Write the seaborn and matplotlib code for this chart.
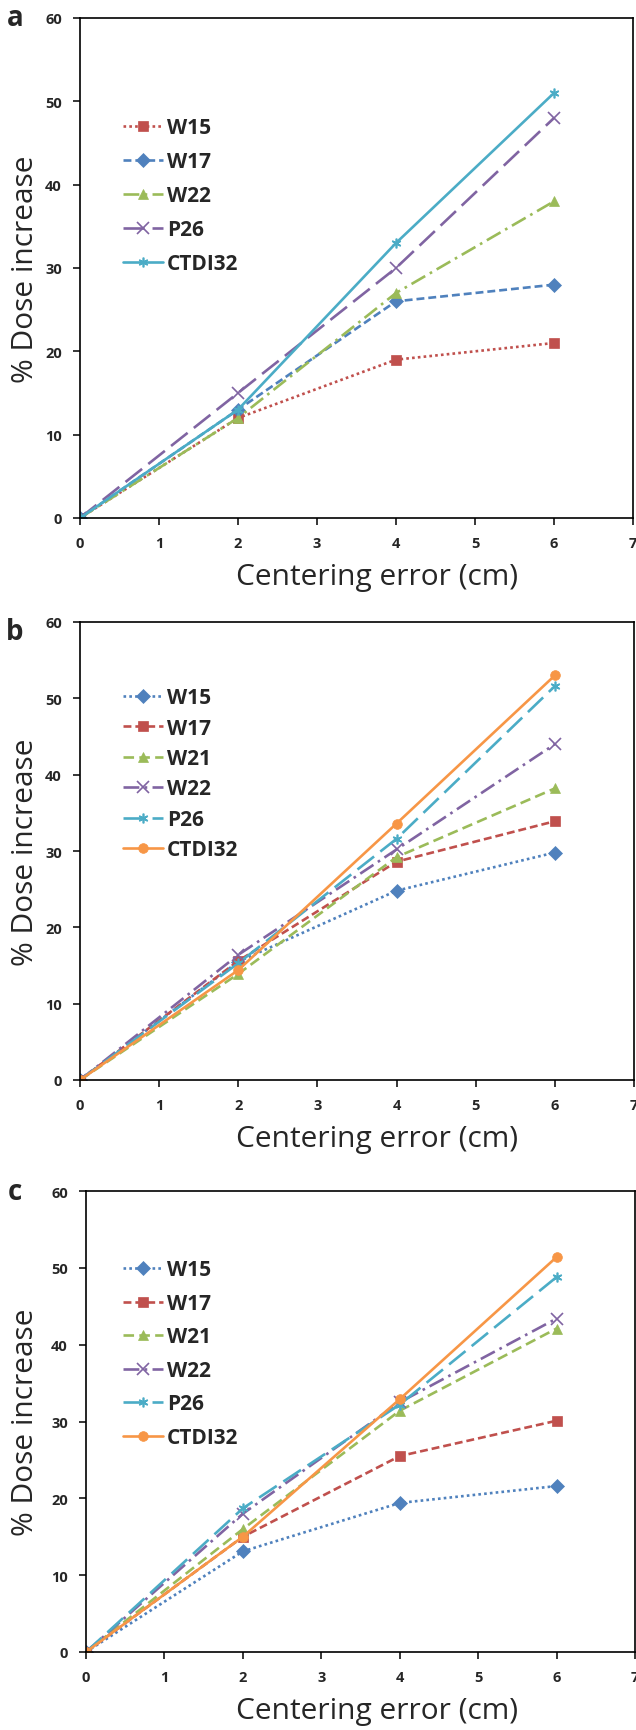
import numpy as np
import pandas as pd
import matplotlib
matplotlib.use('Agg')
import matplotlib.pyplot as plt
import seaborn as sns

# Données
x_cm = [0, 2, 4, 6]

# Panneau a
a_names = ['W15', 'W17', 'W22', 'P26', 'CTDI32']
a_W15 = [0, 12, 19, 21]
a_W17 = [0, 13, 26, 28]
a_W22 = [0, 12, 27, 38]
a_P26 = [0, 15, 30, 48]
a_CTDI32 = [0, 13, 33, 51]

# Panneau b
b_names = ['W15', 'W17', 'W21', 'W22', 'P26', 'CTDI32']
b_W15 = [0, 15.5, 24.8, 29.8]
b_W17 = [0, 15.6, 28.6, 33.9]
b_W21 = [0, 13.9, 29.2, 38.2]
b_W22 = [0, 16.4, 30.2, 44.0]
b_P26 = [0, 15.3, 31.6, 51.6]
b_CTDI32 = [0, 14.4, 33.6, 53.0]

# Panneau c
c_names = ['W15', 'W17', 'W21', 'W22', 'P26', 'CTDI32']
c_W15 = [0, 13.1, 19.4, 21.6]
c_W17 = [0, 15.0, 25.5, 30.1]
c_W21 = [0, 16.0, 31.4, 42.1]
c_W22 = [0, 18.0, 32.5, 43.4]
c_P26 = [0, 18.7, 32.2, 48.8]
c_CTDI32 = [0, 15.0, 32.9, 51.4]

y_ticks = [0, 10, 20, 30, 40, 50, 60]
x_ticks = [0, 1, 2, 3, 4, 5, 6, 7]

RED, BLUE, GREEN = '#C0504D', '#4F81BD', '#9BBB59'
PURPLE, CYAN, ORANGE = '#8064A2', '#4BACC6', '#F79646'
ASTER = (6, 2, 0)

# style par série : couleur, marqueur, tirets
STYLES_A = {
    'W15': (RED, 's', (1, 1.2)),
    'W17': (BLUE, 'D', (3, 1.5)),
    'W22': (GREEN, '^', (6, 2, 1, 2)),
    'P26': (PURPLE, 'x', (8, 3)),
    'CTDI32': (CYAN, ASTER, ''),
}
STYLES_BC = {
    'W15': (BLUE, 'D', (1, 1.2)),
    'W17': (RED, 's', (3, 1.5)),
    'W21': (GREEN, '^', (4, 2)),
    'W22': (PURPLE, 'x', (6, 2, 1, 2)),
    'P26': (CYAN, ASTER, (8, 3)),
    'CTDI32': (ORANGE, 'o', ''),
}

sns.set_theme(style='white')
plt.rcParams['font.family'] = ['Open Sans', 'DejaVu Sans']

W, H = 636, 1731
fig = plt.figure(figsize=(W / 100, H / 100), dpi=100)


def panel(left, top, right, bottom, letter, letter_dy, names, series, styles,
          leg_top, leg_space):
    # positions en pixels -> fractions de figure
    ax = fig.add_axes([left / W, 1 - bottom / H, (right - left) / W, (bottom - top) / H])
    w_px, h_px = right - left, bottom - top
    for name, vals in zip(names, series):
        col, mk, dash = styles[name]
        df = pd.DataFrame({'x': x_cm, 'y': vals})
        line = sns.lineplot(ax=ax, x='x', y='y', data=df, color=col, marker=mk,
                            label=name, linewidth=1.9,
                            markersize=7 if mk != 'x' else 8,
                            markeredgewidth=1.2 if mk in ('x', ASTER) else 0.5,
                            markeredgecolor=col, errorbar=None).lines[-1]
        if dash:
            line.set_dashes(dash)
    ax.set_xlim(0, 7)
    ax.set_ylim(0, 60)
    ax.set_xticks(x_ticks)
    ax.set_yticks(y_ticks)
    for sp in ax.spines.values():
        sp.set_visible(True)
        sp.set_color('black')
        sp.set_linewidth(1.2)
    ax.tick_params(axis='both', direction='out', length=5, width=1.1,
                   color='black', labelsize=10.5, pad=8, bottom=True, left=True)
    for t in ax.get_xticklabels() + ax.get_yticklabels():
        t.set_fontweight('bold')
    ax.set_xlabel('Centering error (cm)', fontsize=21.5)
    ax.xaxis.set_label_coords((377 - left) / w_px, -44 / h_px)
    ax.set_ylabel('% Dose increase', fontsize=21.5)
    ax.yaxis.set_label_coords((40 - left) / w_px, 0.5)
    ax.text((15 - left) / w_px, 1 - letter_dy / h_px, letter, transform=ax.transAxes,
            fontsize=20, fontweight='bold', va='center', ha='center')
    ax.legend(loc='upper left',
              bbox_to_anchor=((115 - left) / w_px, 1 - (leg_top - top) / h_px),
              frameon=False, handlelength=1.9, handletextpad=0.2,
              labelspacing=leg_space, borderaxespad=0,
              prop={'size': 15, 'weight': 'bold'})
    return ax


panel(80, 19, 633, 519, 'a', 0, a_names,
      [a_W15, a_W17, a_W22, a_P26, a_CTDI32], STYLES_A, 110, 0.62)
panel(80, 623, 634, 1081, 'b', 10, b_names,
      [b_W15, b_W17, b_W21, b_W22, b_P26, b_CTDI32], STYLES_BC, 680, 0.45)
panel(86, 1192, 635, 1653, 'c', 0, c_names,
      [c_W15, c_W17, c_W21, c_W22, c_P26, c_CTDI32], STYLES_BC, 1252, 0.6)

fig.savefig('out.png', dpi=100)
